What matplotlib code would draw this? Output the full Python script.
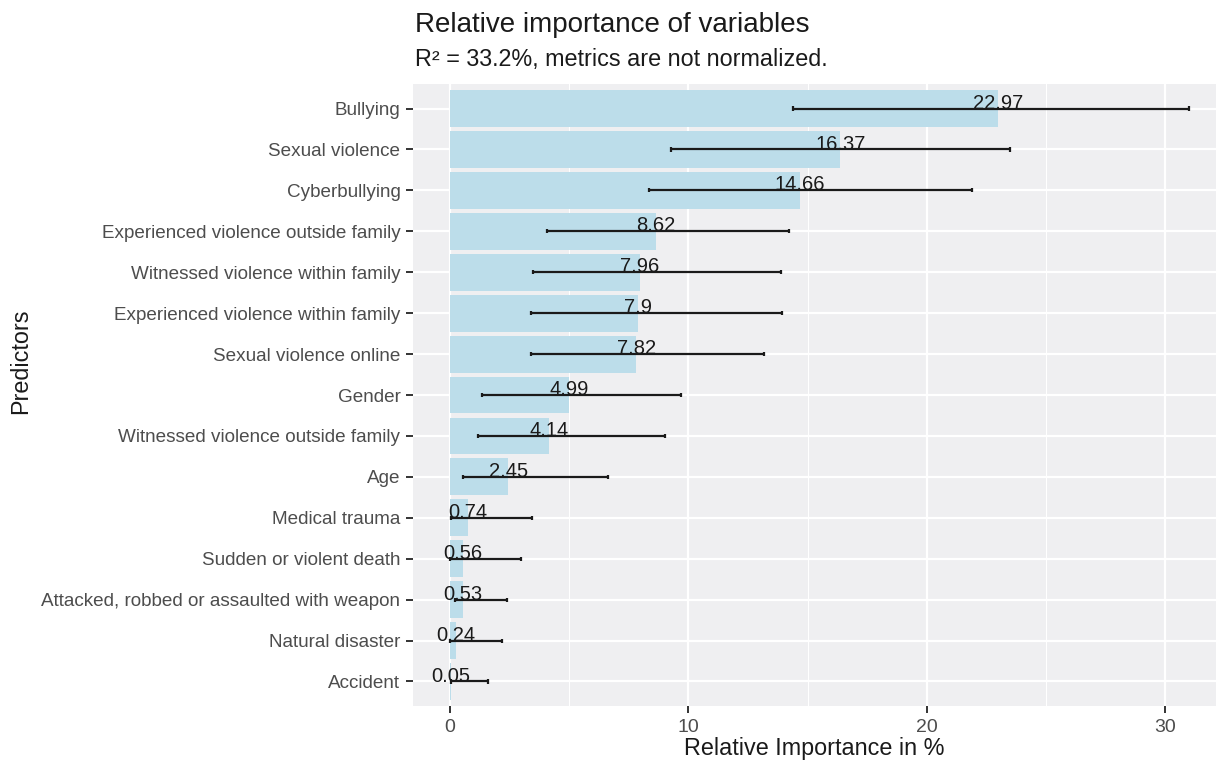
import numpy as np
import matplotlib.pyplot as plt

plt.rcParams['font.family'] = ['Liberation Sans', 'DejaVu Sans']

# predictors, top to bottom
predictors = ['Bullying', 'Sexual violence', 'Cyberbullying',
              'Experienced violence outside family', 'Witnessed violence within family',
              'Experienced violence within family', 'Sexual violence online', 'Gender',
              'Witnessed violence outside family', 'Age', 'Medical trauma',
              'Sudden or violent death', 'Attacked, robbed or assaulted with weapon',
              'Natural disaster', 'Accident']
importance = [22.97, 16.37, 14.66, 8.62, 7.96, 7.9, 7.82, 4.99, 4.14, 2.45,
              0.74, 0.56, 0.53, 0.24, 0.05]
value_labels = ['22.97', '16.37', '14.66', '8.62', '7.96', '7.9', '7.82', '4.99',
                '4.14', '2.45', '0.74', '0.56', '0.53', '0.24', '0.05']
ci_low = [14.39, 9.27, 8.36, 4.05, 3.50, 3.40, 3.42, 1.36, 1.16, 0.56,
          0.03, 0.01, 0.21, 0.0, 0.05]
ci_high = [30.97, 23.50, 21.90, 14.23, 13.88, 13.92, 13.17, 9.69, 9.01, 6.62,
           3.44, 3.00, 2.39, 2.18, 1.61]

n = len(predictors)
ypos = np.arange(n)[::-1]

fig = plt.figure(figsize=(12.16, 7.6), dpi=100)
ax = fig.add_axes([0.3396, 0.071, 0.6604, 0.8185])
ax.set_facecolor('#EFEFF1')

# grid
for x in [5, 15, 25]:
    ax.axvline(x, color='white', lw=0.8, zorder=0)
for x in [0, 10, 20, 30]:
    ax.axvline(x, color='white', lw=1.6, zorder=0)
for y in ypos:
    ax.axhline(y, color='white', lw=1.6, zorder=0)

ax.barh(ypos, importance, height=0.9, color='#BCDDEA', zorder=1)

# confidence intervals
ax.hlines(ypos, ci_low, ci_high, color='#1a1a1a', lw=1.6, zorder=2)
cap = 0.05
ax.vlines(ci_low, ypos - cap, ypos + cap, color='#1a1a1a', lw=1.6, zorder=2)
ax.vlines(ci_high, ypos - cap, ypos + cap, color='#1a1a1a', lw=1.6, zorder=2)

for y, v, lab in zip(ypos, importance, value_labels):
    ax.text(v, y - 0.1, lab, ha='center', va='bottom', fontsize=14.5, color='#1a1a1a', zorder=3)

ax.set_xlim(-1.55, 32.12)
ax.set_ylim(-0.6, n - 0.4)
ax.set_yticks(ypos)
ax.set_yticklabels(predictors, fontsize=13.6, color='#4D4D4D')
ax.set_xticks([0, 10, 20, 30])
ax.set_xticklabels(['0', '10', '20', '30'], fontsize=14, color='#4D4D4D')
ax.tick_params(axis='both', length=5, width=1.4, color='#333333', pad=4)
for s in ax.spines.values():
    s.set_visible(False)

ax.set_xlabel('Relative Importance in %', fontsize=16.8, color='#1a1a1a', labelpad=1)
fig.text(0.017, 0.525, 'Predictors', rotation=90, fontsize=16.8, color='#1a1a1a',
         ha='center', va='center')

fig.text(0.341, 0.958, 'Relative importance of variables', fontsize=20, color='#1a1a1a',
         ha='left', va='baseline')
fig.text(0.341, 0.913, 'R² = 33.2%, metrics are not normalized.', fontsize=16.8,
         color='#1a1a1a', ha='left', va='baseline')

fig.savefig('out.png', dpi=100)
